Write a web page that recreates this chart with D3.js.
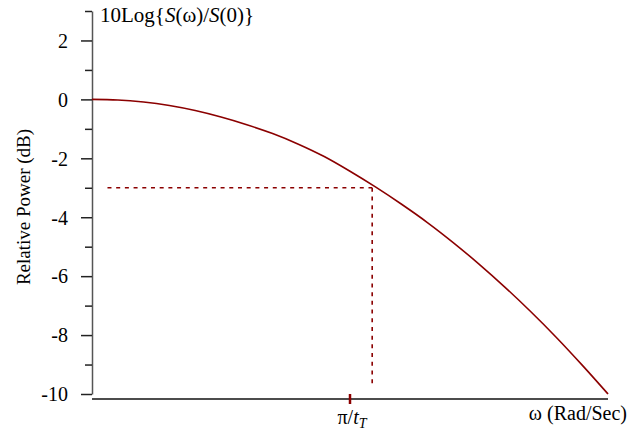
<!DOCTYPE html>
<html lang="en">
  <head>
    <meta charset="utf-8">
    <title>Relative power</title>
    <script src="https://d3js.org/d3.v7.min.js"></script>
    <style>
      body {
        margin: 0;
        background-color: white;
      }
      svg {
        background-color: white;
      }
      .curve {
        fill: none;
        stroke: #8b0000;
        stroke-width: 1.6;
      }
      .guide {
        fill: none;
        stroke: #8b0000;
        stroke-width: 1.6;
        stroke-dasharray: 4, 4.7;
      }
    </style>
  </head>
  <body>
    <script>
      var w = 632;
      var h = 432;

      // omega in units of pi/t_T, power in dB
      var omega = [0, 0.1, 0.2, 0.3, 0.4, 0.5, 0.6, 0.7, 0.8, 0.9, 1.0,
                   1.1, 1.2, 1.3, 1.4, 1.5, 1.6, 1.7, 1.8, 1.9, 2.0];
      var powerDb = [0, -0.02, -0.09, -0.21, -0.38, -0.6, -0.86, -1.16, -1.52, -1.94, -2.44,
                     -2.98, -3.56, -4.18, -4.86, -5.59, -6.37, -7.2, -8.08, -9.02, -10];
      var majorTicks = [-10, -8, -6, -4, -2, 0, 2];
      var minorTicks = [-9, -7, -5, -3, -1, 1, 3];
      var halfPowerOmega = 1.086;
      var halfPowerDb = -3;

      var x = d3.scaleLinear().domain([0, 2]).range([92, 608]);
      var y = d3.scaleLinear().domain([-10, 3]).range([394, 11]);
      var serif = "'Liberation Serif', 'Times New Roman', Times, serif";

      var svg = d3.select("body")
        .append("svg")
        .attr("width", w)
        .attr("height", h);

      // y axis, major ticks with labels
      var yAxis = svg.append("g")
        .attr("transform", "translate(" + x(0) + ",0)")
        .call(d3.axisLeft(y).tickValues(majorTicks).tickSize(11).tickSizeOuter(0).tickPadding(13));
      yAxis.attr("font-family", null).attr("font-size", null);
      yAxis.select(".domain").attr("stroke", "#555").attr("stroke-width", 1.5);
      yAxis.selectAll(".tick line").attr("stroke", "#222").attr("stroke-width", 1.5);
      yAxis.selectAll(".tick text")
        .style("font-family", serif)
        .style("font-size", "20px")
        .attr("fill", "#000")
        .attr("dy", "0.34em")
        .text(function(d) { return d < 0 ? "-" + (-d) : d; });

      // minor ticks
      svg.append("g")
        .attr("transform", "translate(" + x(0) + ",0)")
        .call(d3.axisLeft(y).tickValues(minorTicks).tickSize(7).tickFormat(""))
        .call(function(g) {
          g.select(".domain").remove();
          g.selectAll(".tick line").attr("stroke", "#222").attr("stroke-width", 1.5);
        });

      // x axis line
      svg.append("line")
        .attr("x1", x(0)).attr("x2", x(2))
        .attr("y1", 399).attr("y2", 399)
        .attr("stroke", "#111").attr("stroke-width", 1.5);

      // pi/t_T marker
      svg.append("line")
        .attr("x1", x(1)).attr("x2", x(1))
        .attr("y1", 394).attr("y2", 404)
        .attr("stroke", "#8b0000").attr("stroke-width", 2.5);

      var piLabel = svg.append("text")
        .attr("x", x(1) + 2)
        .attr("y", 424)
        .attr("text-anchor", "middle")
        .style("font-family", serif)
        .style("font-size", "20px");
      piLabel.append("tspan").text("\u03c0/");
      piLabel.append("tspan").style("font-style", "italic").text("t");
      piLabel.append("tspan").style("font-style", "italic").style("font-size", "14px").attr("dy", 4).text("T");

      svg.append("text")
        .attr("x", 627)
        .attr("y", 420)
        .attr("text-anchor", "end")
        .style("font-family", serif)
        .style("font-size", "20px")
        .text("\u03c9 (Rad/Sec)");

      svg.append("text")
        .attr("transform", "translate(30,207) rotate(-90)")
        .attr("text-anchor", "middle")
        .style("font-family", serif)
        .style("font-size", "19px")
        .text("Relative Power (dB)");

      var title = svg.append("text")
        .attr("x", 100)
        .attr("y", 22)
        .style("font-family", serif)
        .style("font-size", "21px");
      title.append("tspan").text("10Log{");
      title.append("tspan").style("font-style", "italic").text("S");
      title.append("tspan").text("(\u03c9)/");
      title.append("tspan").style("font-style", "italic").text("S");
      title.append("tspan").text("(0)}");

      // -3 dB guides
      svg.append("path")
        .attr("class", "guide")
        .attr("d", d3.line()([[x(0.06), y(halfPowerDb)], [x(halfPowerOmega), y(halfPowerDb)]]));
      svg.append("path")
        .attr("class", "guide")
        .attr("d", d3.line()([[x(halfPowerOmega), y(halfPowerDb)], [x(halfPowerOmega), y(-9.7)]]));

      // spectrum curve
      var pts = omega.map(function(d, i) { return [d, powerDb[i]]; });
      svg.append("path")
        .datum(pts)
        .attr("class", "curve")
        .attr("d", d3.line()
          .x(function(d) { return x(d[0]); })
          .y(function(d) { return y(d[1]); })
          .curve(d3.curveMonotoneX));
    </script>
  </body>
</html>
